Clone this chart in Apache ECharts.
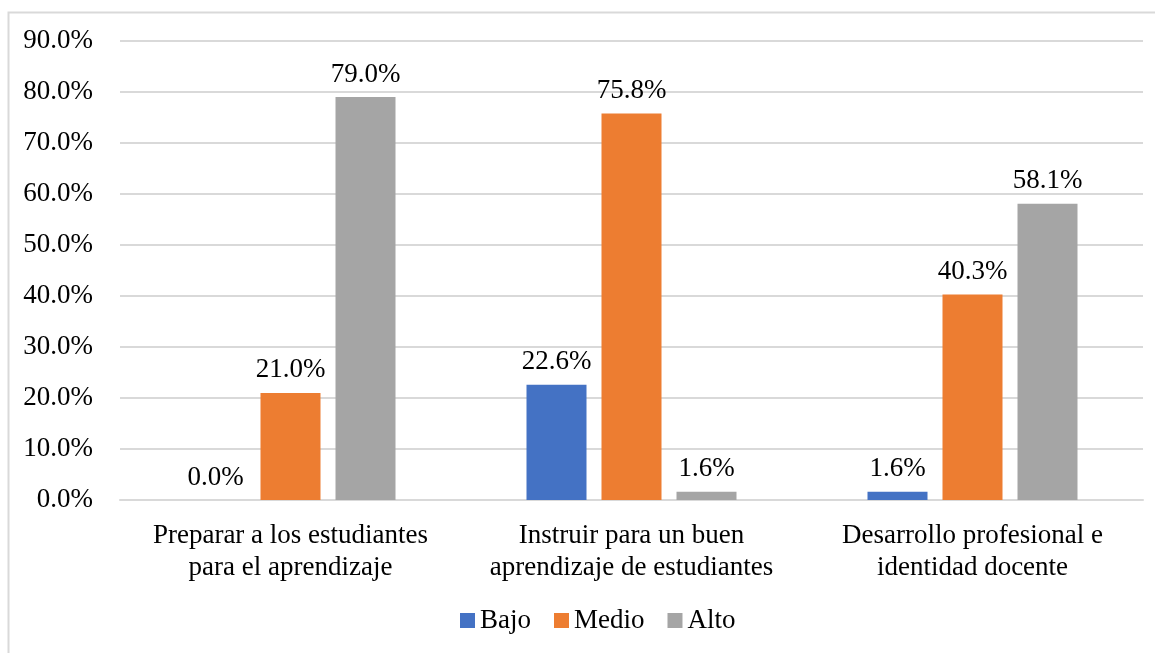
<!DOCTYPE html>
<html>
<head>
<meta charset="utf-8">
<script src="https://cdn.jsdelivr.net/npm/echarts@6/dist/echarts.min.js"></script>
<style>
    html, body { margin: 0; padding: 0; background: #fff; }
    #chart { width: 1155px; height: 653px; }
</style>
</head>
<body>
<div id="chart"></div>
<script>
    var categories = [
        'Preparar a los estudiantes\npara el aprendizaje',
        'Instruir para un buen\naprendizaje de estudiantes',
        'Desarrollo profesional e\nidentidad docente'
    ];
    var bajo = [0.0, 22.6, 1.6];
    var medio = [21.0, 75.8, 40.3];
    var alto = [79.0, 1.6, 58.1];

    var font = '"Liberation Serif", "DejaVu Serif", serif';
    var myChart = echarts.init(document.getElementById('chart'));

    function barSeries(name, data, color){
        return {
            name: name,
            type: 'bar',
            data: data,
            barWidth: 60,
            barGap: '25%',
            itemStyle: { color: color },
            label: {
                show: true,
                position: 'top',
                distance: 9,
                color: '#000',
                fontFamily: font,
                fontSize: 27,
                formatter: function (p) { return p.value.toFixed(1) + '%'; }
            }
        };
    }

    var option = {
        animation: false,
        textStyle: { fontFamily: font },
        graphic: [
            {
                type: 'rect',
                shape: { x: 8.5, y: 12.5, width: 1200, height: 700 },
                style: { fill: 'none', stroke: '#d9d9d9', lineWidth: 2 }
            }
        ],
        legend: {
            bottom: 14,
            left: 455,
            itemWidth: 15,
            itemHeight: 15,
            itemGap: 23,
            icon: 'rect',
            textStyle: { fontFamily: font, fontSize: 27, color: '#000' },
            data: ['Bajo', 'Medio', 'Alto']
        },
        grid: {
            left: 120,
            right: 12,
            top: 41,
            bottom: 153,
            containLabel: false
        },
        xAxis: {
            type: 'category',
            data: categories,
            axisTick: { show: false },
            axisLine: { lineStyle: { color: '#d9d9d9', width: 2 } },
            axisLabel: {
                color: '#000',
                fontFamily: font,
                fontSize: 27,
                lineHeight: 32,
                margin: 20,
                interval: 0
            }
        },
        yAxis: {
            type: 'value',
            min: 0,
            max: 90,
            interval: 10,
            axisLine: { show: false },
            axisTick: { show: false },
            splitLine: { lineStyle: { color: '#d9d9d9', width: 2 } },
            axisLabel: {
                color: '#000',
                fontFamily: font,
                fontSize: 27,
                margin: 27,
                formatter: function (v) { return v.toFixed(1) + '%'; }
            }
        },
        series: [
            barSeries('Bajo', bajo, '#4472c4'),
            barSeries('Medio', medio, '#ed7d31'),
            barSeries('Alto', alto, '#a5a5a5')
        ]
    };
    myChart.setOption(option);
</script>
</body>
</html>
